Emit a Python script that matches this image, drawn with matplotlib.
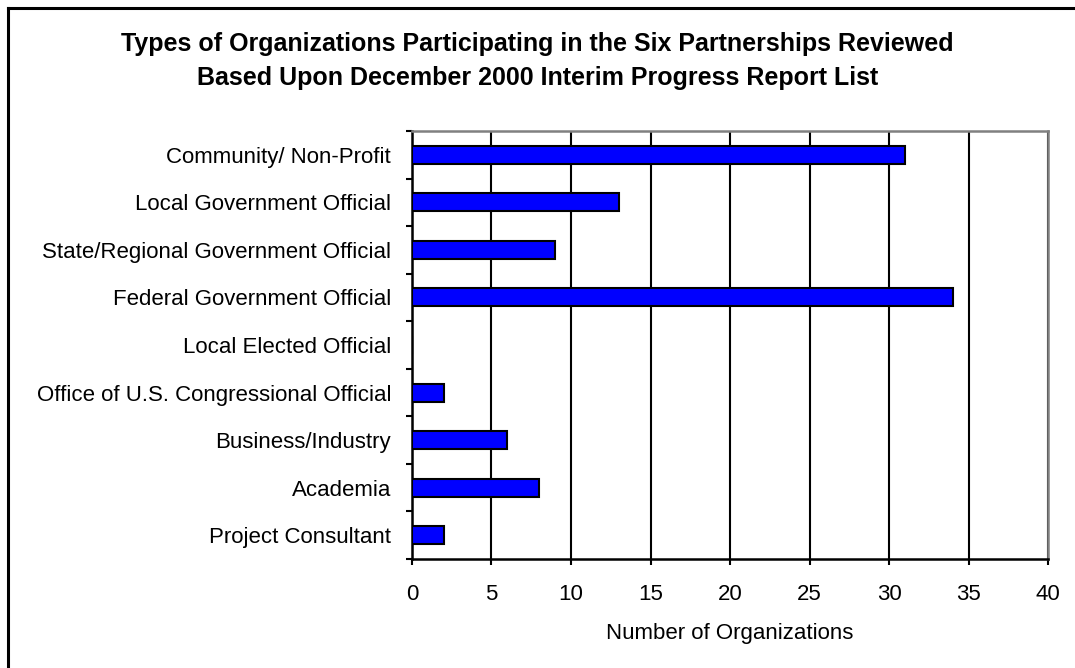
import matplotlib
matplotlib.use("Agg")
import matplotlib.pyplot as plt
from matplotlib.lines import Line2D
import numpy as np

plt.rcParams['font.family'] = ['Liberation Sans', 'DejaVu Sans']

categories = [
    "Community/ Non-Profit",
    "Local Government Official",
    "State/Regional Government Official",
    "Federal Government Official",
    "Local Elected Official",
    "Office of U.S. Congressional Official",
    "Business/Industry",
    "Academia",
    "Project Consultant",
]
counts = [31, 13, 9, 34, 0, 2, 6, 8, 2]
x_ticks = [0, 5, 10, 15, 20, 25, 30, 35, 40]
title_lines = [
    "Types of Organizations Participating in the Six Partnerships Reviewed",
    "Based Upon December 2000 Interim Progress Report List",
]
x_label = "Number of Organizations"

fig = plt.figure(figsize=(10.75, 6.68), dpi=100)
ax = fig.add_axes([412 / 1075, 1 - 559 / 668, (1048 - 412) / 1075, (559 - 131) / 668])

n = len(categories)
ypos = np.arange(n)[::-1]  # first category at top
ax.barh(ypos, counts, height=0.38, color="#0000FF", edgecolor="black",
        linewidth=1.5, zorder=3)

ax.set_xlim(x_ticks[0], x_ticks[-1])
ax.set_ylim(-0.5, n - 0.5)
ax.set_xticks(x_ticks)
ax.set_xticklabels([str(t) for t in x_ticks], fontsize=16)
ax.tick_params(axis="x", direction="out", length=4, width=1.5, pad=14)

# category labels at bar centres, tick marks at category boundaries
ax.set_yticks(ypos)
ax.set_yticklabels(categories, fontsize=16)
ax.tick_params(axis="y", which="major", length=0, pad=15)
ax.set_yticks(np.arange(n + 1) - 0.5, minor=True)
ax.tick_params(axis="y", which="minor", direction="out", length=4.5, width=1.5)

ax.grid(axis="x", color="black", linewidth=1.5, zorder=1)
ax.set_axisbelow(True)

for side in ("left", "bottom"):
    ax.spines[side].set_color("black")
    ax.spines[side].set_linewidth(1.8)
for side in ("top", "right"):
    ax.spines[side].set_color("#808080")
    ax.spines[side].set_linewidth(1.8)

ax.set_xlabel(x_label, fontsize=16, labelpad=13)

fig.text(0.5, 1 - 44 / 668, title_lines[0], ha="center", va="center",
         fontsize=18, fontweight="bold")
fig.text(0.5, 1 - 78 / 668, title_lines[1], ha="center", va="center",
         fontsize=18, fontweight="bold")

# outer frame (left and top edges)
fig.add_artist(Line2D([7.5 / 1075, 7.5 / 1075], [0, 1 - 7.5 / 668],
                      transform=fig.transFigure, color="black", linewidth=2.2))
fig.add_artist(Line2D([7.5 / 1075, 1], [1 - 7.5 / 668, 1 - 7.5 / 668],
                      transform=fig.transFigure, color="black", linewidth=2.2))

fig.savefig("out.png", dpi=100, facecolor="white")
